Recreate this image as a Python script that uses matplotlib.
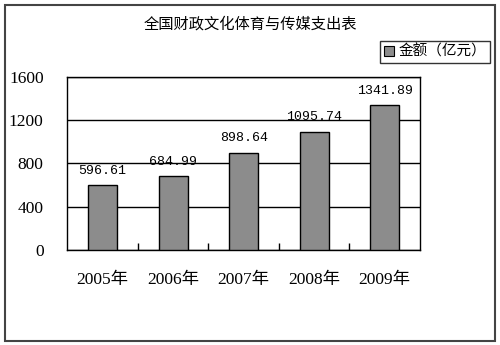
import matplotlib.pyplot as plt
from matplotlib.patches import Rectangle, Patch
from matplotlib.ticker import FixedLocator

# data
years = ['2005年', '2006年', '2007年', '2008年', '2009年']
amounts = [596.61, 684.99, 898.64, 1095.74, 1341.89]
yticks = [0, 400, 800, 1200, 1600]

title = '全国财政文化体育与传媒支出表'
legend_label = '金额（亿元）'

num_font = ['Liberation Serif', 'Noto Sans CJK SC']
cjk_font = ['Noto Sans CJK SC', 'DejaVu Sans']

fig = plt.figure(figsize=(5, 3.45), dpi=100)
ax = fig.add_axes([0.1346, 0.2754, 0.8400 - 0.1346, 0.7768 - 0.2754])

x = list(range(len(years)))
bars = ax.bar(x, amounts, width=0.41, color='#8c8c8c', edgecolor='black',
              linewidth=1.0, zorder=3, label=legend_label)

for xi, v in zip(x, amounts):
    ax.annotate('%.2f' % v, (xi, v), xytext=(0, 6), textcoords='offset points',
                ha='center', va='bottom', fontsize=9.5,
                family='Liberation Mono', zorder=4)

ax.set_xlim(-0.5, len(years) - 0.5)
ax.set_ylim(0, 1600)

ax.set_yticks(yticks)
ax.set_yticklabels([str(t) for t in yticks], family=num_font, fontsize=12.5)
ax.tick_params(axis='y', length=0, pad=17)

ax.set_xticks(x)
ax.set_xticklabels(years, family=num_font, fontsize=12.5)
ax.tick_params(axis='x', which='major', length=0, pad=16)
ax.xaxis.set_minor_locator(FixedLocator([i + 0.5 for i in range(len(years) - 1)]))
ax.tick_params(axis='x', which='minor', direction='in', length=5, width=1.0,
               color='black')

ax.grid(axis='y', color='black', linewidth=1.0, zorder=1)
for s in ax.spines.values():
    s.set_color('black')
    s.set_linewidth(1.0)

fig.text(0.5, 1 - 24 / 345, title, ha='center', va='center',
         fontsize=11, family=cjk_font)

handle = Patch(facecolor='#8c8c8c', edgecolor='black', linewidth=0.8)
leg = fig.legend([handle], [legend_label], loc='upper right',
                 bbox_to_anchor=(490 / 500, 1 - 41 / 345),
                 prop={'family': cjk_font, 'size': 10.5},
                 fancybox=False, frameon=True, borderpad=0.25,
                 handlelength=0.7, handleheight=0.7, handletextpad=0.3,
                 borderaxespad=0)
leg.get_frame().set_edgecolor('black')
leg.get_frame().set_linewidth(1.0)

fig.patches.append(Rectangle((5 / 500, 4 / 345), 490 / 500, 336 / 345,
                             transform=fig.transFigure, fill=False,
                             edgecolor='#444444', linewidth=1.5))

plt.savefig('out.png', dpi=100)
